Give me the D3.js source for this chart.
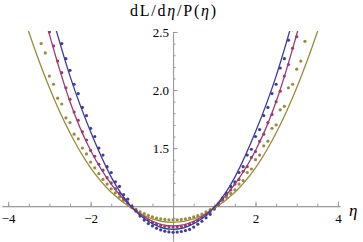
<!DOCTYPE html>
<html>
<head>
<meta charset="utf-8">
<script src="https://cdn.jsdelivr.net/npm/d3@7"></script>
<style>
body { margin: 0; background: #fff; }
.axis path, .axis line { stroke: #9a9a9a; stroke-width: 1; }
.axis text { font-family: "Liberation Serif", "DejaVu Serif", serif; font-size: 13px; fill: #000; }
</style>
</head>
<body>
<svg id="chart"></svg>
<script>
// smooth curves, sampled every 0.5 in eta
var lineEta = [-4, -3.5, -3, -2.5, -2, -1.5, -1, -0.5, 0, 0.5, 1, 1.5, 2, 2.5, 3, 3.5, 4];
var blueLine   = [4.3, 3.40, 2.72, 2.12, 1.64, 1.25, 0.99, 0.85, 0.80, 0.85, 0.99, 1.25, 1.64, 2.12, 2.72, 3.40, 4.3];
var purpleLine = [3.9, 3.15, 2.48, 1.90, 1.48, 1.19, 0.99, 0.87, 0.83, 0.87, 0.99, 1.19, 1.48, 1.90, 2.48, 3.15, 3.9];
var oliveLine  = [3.05, 2.50, 2.02, 1.63, 1.33, 1.12, 0.98, 0.89, 0.86, 0.89, 0.98, 1.12, 1.33, 1.63, 2.02, 2.50, 3.05];

// points, every 0.1 from -3.2 to 3.2
var dotEta = d3.range(-32, 33).map(function(i){ return i / 10; });
var blueDots = [2.98, 2.88, 2.76, 2.63, 2.53, 2.40, 2.27, 2.17, 2.05, 1.97, 1.85, 1.78, 1.67, 1.60, 1.50, 1.44,
  1.34, 1.29, 1.21, 1.17, 1.10, 1.06, 1.00, 0.96, 0.915, 0.88, 0.85, 0.83, 0.81, 0.795, 0.785, 0.778,
  0.775,
  0.777, 0.782, 0.79, 0.80, 0.82, 0.845, 0.87, 0.90, 0.93, 0.975, 1.01, 1.07, 1.11, 1.17, 1.21, 1.29,
  1.34, 1.44, 1.49, 1.60, 1.66, 1.78, 1.85, 1.97, 2.05, 2.19, 2.27, 2.43, 2.52, 2.68, 2.80, 2.95];
var purpleDots = [2.75, 2.62, 2.50, 2.38, 2.25, 2.15, 2.02, 1.92, 1.81, 1.74, 1.64, 1.57, 1.48, 1.43, 1.36, 1.31,
  1.245, 1.20, 1.15, 1.11, 1.065, 1.03, 0.99, 0.96, 0.93, 0.905, 0.88, 0.862, 0.846, 0.835, 0.827, 0.822,
  0.820,
  0.822, 0.826, 0.834, 0.845, 0.860, 0.878, 0.90, 0.925, 0.955, 0.985, 1.02, 1.06, 1.10, 1.14, 1.19, 1.23,
  1.30, 1.34, 1.42, 1.47, 1.56, 1.62, 1.72, 1.79, 1.90, 1.99, 2.12, 2.22, 2.36, 2.46, 2.60, 2.71];
var oliveDots = [2.40, 2.32, 2.12, 2.05, 1.93, 1.88, 1.76, 1.72, 1.62, 1.58, 1.50, 1.45, 1.38, 1.33, 1.28, 1.23,
  1.19, 1.15, 1.115, 1.08, 1.05, 1.02, 0.995, 0.972, 0.952, 0.935, 0.92, 0.908, 0.898, 0.891, 0.886, 0.883,
  0.882,
  0.883, 0.886, 0.891, 0.898, 0.907, 0.918, 0.932, 0.95, 0.97, 0.99, 1.015, 1.045, 1.075, 1.11, 1.14, 1.19,
  1.22, 1.29, 1.32, 1.40, 1.44, 1.52, 1.56, 1.67, 1.70, 1.83, 1.86, 2.02, 2.05, 2.18, 2.25, 2.42];

var xMajor = [-4, -2, 2, 4];
var xMinor = [-4, -3.5, -3, -2.5, -2, -1.5, -1, -0.5, 0.5, 1, 1.5, 2, 2.5, 3, 3.5, 4];
var yMajor = [1.5, 2.0, 2.5];
var yMinor = [0.8, 0.9, 1.1, 1.2, 1.3, 1.4, 1.5, 1.6, 1.7, 1.8, 1.9, 2.0, 2.1, 2.2, 2.3, 2.4, 2.5];

var width = 363, height = 242;

var chart = d3.select('#chart')
	.attr('width', width)
	.attr('height', height);

var xScale = d3.scaleLinear().domain([-4.15, 4.05]).range([2, 340]);
var yScale = d3.scaleLinear().domain([0.7, 2.5]).range([241, 32]);

chart.append('clipPath').attr('id', 'plot-clip')
	.append('rect')
	.attr('x', 0).attr('y', 31)
	.attr('width', 342).attr('height', 211);

// axes cross at (0, 1)
var xAxisY = yScale(1), yAxisX = xScale(0);

chart.append('g').attr('class', 'axis')
	.attr('transform', 'translate(0,' + xAxisY + ')')
	.call(d3.axisBottom(xScale).tickValues(xMinor).tickFormat('').tickSize(-2.5).tickSizeOuter(0));

chart.append('g').attr('class', 'axis')
	.attr('transform', 'translate(0,' + xAxisY + ')')
	.call(d3.axisBottom(xScale).tickValues(xMajor).tickFormat(d3.format('d')).tickSize(-4.5).tickSizeOuter(0).tickPadding(8));

chart.append('g').attr('class', 'axis')
	.attr('transform', 'translate(' + yAxisX + ',0)')
	.call(d3.axisLeft(yScale).tickValues(yMinor).tickFormat('').tickSize(-2.5).tickSizeOuter(0));

chart.append('g').attr('class', 'axis')
	.attr('transform', 'translate(' + yAxisX + ',0)')
	.call(d3.axisLeft(yScale).tickValues(yMajor).tickFormat(d3.format('.1f')).tickSize(-4.5).tickSizeOuter(0).tickPadding(4));

// series
var series = [
	{ color: '#998b3d', line: oliveLine,  dots: oliveDots },
	{ color: '#993d71', line: purpleLine, dots: purpleDots },
	{ color: '#3d3d99', line: blueLine,   dots: blueDots }
];

var plot = chart.append('g').attr('clip-path', 'url(#plot-clip)');

var lineGen = d3.line()
	.x(function(d){ return xScale(d[0]); })
	.y(function(d){ return yScale(d[1]); })
	.curve(d3.curveNatural);

series.forEach(function(s){
	plot.append('g')
		.selectAll('circle')
		.data(d3.zip(dotEta, s.dots))
		.enter().append('circle')
			.attr('cx', function(d){ return xScale(d[0]); })
			.attr('cy', function(d){ return yScale(d[1]); })
			.attr('r', 1.6)
			.attr('fill', s.color);
});

series.forEach(function(s){
	plot.append('path')
		.datum(d3.zip(lineEta, s.line))
		.attr('fill', 'none')
		.attr('stroke', s.color)
		.attr('stroke-width', 1.3)
		.attr('d', lineGen);
});

// axis labels
chart.append('text')
	.attr('x', 130).attr('y', 16)
	.attr('textLength', 86).attr('lengthAdjust', 'spacing')
	.style('font-family', '"Liberation Serif", "DejaVu Serif", serif')
	.style('font-size', '16px')
	.html('dL/d<tspan font-style="italic">η</tspan>/P(<tspan font-style="italic">η</tspan>)');

chart.append('text')
	.attr('x', 349).attr('y', 216)
	.style('font-family', '"Liberation Serif", "DejaVu Serif", serif')
	.style('font-size', '17px')
	.style('font-style', 'italic')
	.text('η');
</script>
</body>
</html>
